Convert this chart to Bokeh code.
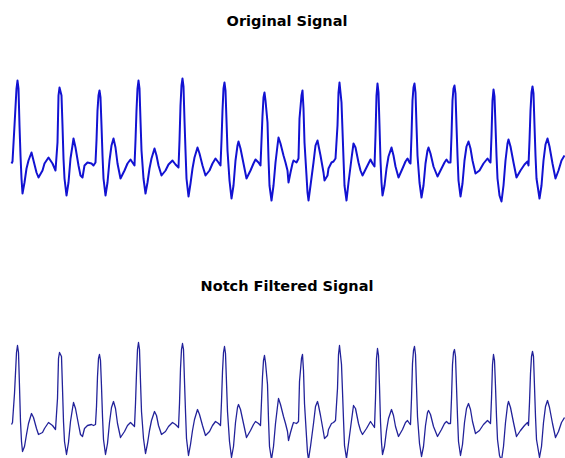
from bokeh.plotting import figure
from bokeh.layouts import column
from bokeh.models import Range1d, Label, ColumnDataSource
from bokeh.embed import file_html
from bokeh.resources import INLINE

# ECG record: sample index (50 Hz) and amplitude in microvolts
sample_index = [
    0, 1,
    3, 5, 6, 7, 8, 9, 10, 11, 13, 15, 17, 20, 22, 25, 27, 31, 33, 37, 41, 44,
    46, 47, 48, 50, 51, 52, 53, 55, 57, 59, 61, 62, 64, 67, 69, 71, 73, 76, 80, 82, 84,
    85, 86, 87, 88, 89, 90, 91, 92, 94, 96, 98, 100, 102, 104, 106, 109, 113, 116, 119, 121, 123,
    124, 125, 126, 127, 128, 129, 130, 132, 134, 136, 138, 140, 143, 145, 147, 150, 154, 157, 161, 164, 167,
    168, 169, 170, 171, 172, 173, 174, 175, 177, 179, 181, 183, 186, 188, 191, 194, 198, 201, 204, 207, 209,
    210, 211, 212, 213, 214, 215, 216, 218, 220, 222, 224, 226, 227, 229, 232, 235, 239, 242, 244, 247, 249,
    250, 251, 252, 253, 254, 256, 257, 258, 260, 262, 264, 266, 267, 269, 272, 274, 276, 277, 279, 281, 282, 285, 287,
    288, 290, 291, 292, 293, 295, 296, 297, 299, 302, 304, 306, 307, 309, 312, 313, 316, 317, 320, 322, 324,
    326, 327, 328, 330, 331, 332, 333, 335, 337, 340, 342, 344, 347, 349, 351, 355, 359, 361, 363,
    364, 365, 366, 367, 368, 369, 370, 371, 373, 375, 377, 380, 382, 384, 387, 391, 394, 396, 398, 399,
    400, 401, 402, 403, 404, 405, 406, 408, 410, 412, 414, 416, 417, 419, 422, 426, 430, 433, 435, 437, 439,
    440, 441, 442, 443, 444, 445, 446, 447, 449, 451, 453, 455, 457, 459, 461, 464, 468, 472, 476, 478, 479,
    480, 481, 482, 483, 484, 485, 486, 488, 490, 492, 494, 496, 497, 499, 502, 505, 509, 513, 516, 517,
    518, 519, 520, 521, 522, 523, 524, 525, 528, 530, 532, 534, 536, 538, 541, 544, 547, 550, 553,
]

original_uv = [
    20, 40,
    400, 770, 850, 770, 400, 100, -130, -280, -170, -30, 50, 130, 50, -70, -120, -50, 20, 80, 20, -50,
    230, 700, 780, 700, 400, 70, -130, -300, -170, 70, 200, 270, 180, 0, -100, -120, 0, 30, 20, 0, 30,
    250, 550, 700, 750, 680, 400, 100, -130, -300, -170, 50, 200, 270, 180, 20, -130, -50, 20, 60, 30, 0,
    250, 550, 770, 850, 770, 450, 150, -130, -280, -170, -30, 70, 170, 100, 0, -100, -50, 10, 50, 10, -20,
    250, 600, 800, 870, 790, 450, 150, -130, -310, -180, -30, 80, 180, 120, 0, -100, -50, 20, 70, 30, 0,
    250, 550, 770, 830, 750, 450, 150, -150, -330, -200, 50, 200, 240, 170, 20, -130, -50, 20, 60, 30, 0,
    250, 500, 680, 730, 650, 430, 70, -200, -350, -200, 30, 200, 280, 220, 100, 30, -50, -170, -70, 20, 50, 30, 70,
    470, 700, 750, 570, 230, -100, -270, -350, -200, 30, 200, 250, 200, 100, -70, -150, -100, -30, 30, 40, 70,
    400, 730, 830, 630, 350, 70, -200, -350, -170, 70, 220, 180, 30, -50, -100, -20, 60, 20, -10,
    300, 700, 820, 730, 400, 50, -170, -300, -200, -30, 90, 180, 100, -10, -120, -30, 40, 70, 30, 20,
    300, 650, 780, 820, 730, 400, 100, -170, -320, -200, 20, 150, 180, 120, -10, -110, -30, 30, 60, 30, 30,
    300, 650, 770, 800, 720, 400, 100, -150, -310, -180, 50, 190, 240, 170, 50, -80, -50, 20, 70, 40, 30,
    300, 650, 760, 690, 400, 100, -130, -300, -360, -200, 50, 220, 260, 190, 30, -120, -50, 10, 40, 0,
    250, 550, 730, 790, 720, 400, 100, -130, -330, -200, 50, 210, 270, 190, 20, -130, -50, 50, 100,
]

filtered_uv = [
    20, 40,
    330, 740, 810, 740, 400, 50, -150, -250, -200, -80, 30, 130, 90, -20, -80, -60, -20, 40, 10, -30,
    280, 680, 740, 700, 380, 50, -150, -280, -160, 50, 180, 240, 180, 20, -80, -100, -20, 10, 20, 10, 20,
    200, 500, 680, 720, 660, 400, 100, -130, -280, -170, 40, 190, 250, 180, 30, -110, -50, 10, 40, 20, 0,
    230, 530, 770, 840, 770, 450, 150, -120, -270, -170, -40, 60, 150, 110, 10, -80, -50, 0, 40, 20, -10,
    230, 580, 770, 830, 770, 450, 150, -120, -290, -180, -40, 70, 170, 120, 10, -90, -50, 10, 50, 30, 10,
    250, 550, 740, 800, 730, 440, 150, -150, -310, -200, 40, 190, 220, 170, 30, -110, -40, 20, 50, 30, 10,
    250, 500, 660, 710, 640, 420, 70, -200, -330, -200, 30, 200, 280, 220, 100, 30, -50, -140, -60, 10, 40, 30, 50,
    450, 680, 720, 560, 230, -100, -260, -330, -200, 30, 200, 250, 210, 110, -60, -120, -90, -30, 30, 40, 60,
    380, 720, 810, 620, 350, 70, -190, -320, -170, 60, 210, 180, 30, -40, -80, -20, 50, 20, -10,
    280, 680, 780, 710, 400, 50, -160, -280, -200, -40, 80, 170, 110, 0, -100, -30, 40, 60, 30, 20,
    280, 630, 760, 800, 720, 400, 100, -170, -300, -200, 10, 140, 160, 120, 0, -100, -30, 30, 50, 30, 30,
    280, 620, 740, 770, 700, 400, 100, -150, -290, -180, 40, 180, 230, 170, 50, -70, -40, 20, 60, 40, 30,
    280, 620, 720, 660, 400, 100, -130, -290, -340, -200, 40, 210, 250, 190, 40, -100, -40, 10, 40, 10,
    240, 530, 700, 750, 700, 400, 100, -130, -310, -200, 40, 200, 260, 190, 30, -110, -50, 40, 90,
]

titles = ["Original Signal", "Notch Filtered Signal"]

n = min(len(sample_index), len(original_uv), len(filtered_uv))
src = ColumnDataSource(dict(t=sample_index[:n], orig=original_uv[:n], filt=filtered_uv[:n]))

FONT = "DejaVu Sans"


def make_fig(h, yr, col, color, lw, title, title_y):
    p = figure(width=565, height=h, x_range=Range1d(-11, 554), y_range=Range1d(*yr),
               x_axis_type=None, y_axis_type=None, output_backend="svg",
               toolbar_location=None, min_border=0)
    p.grid.visible = False
    p.outline_line_color = None
    p.background_fill_color = "white"
    p.border_fill_color = "white"
    p.line("t", col, source=src, line_color=color, line_width=lw, line_join="round")
    p.add_layout(Label(x=275.5, y=title_y, text=title, text_align="center",
                       text_baseline="middle", text_font=FONT, text_font_style="bold",
                       text_font_size="14.5px", text_color="black"))
    return p


p1 = make_fig(265, (-1000, 1650), "orig", "#1212d2", 2.0, titles[0], 1450)
p2 = make_fig(193, (-320, 1610), "filt", "#22229a", 1.3, titles[1], 1410)

layout = column(p1, p2, spacing=0)
open("out.html", "w").write(file_html(layout, INLINE))
